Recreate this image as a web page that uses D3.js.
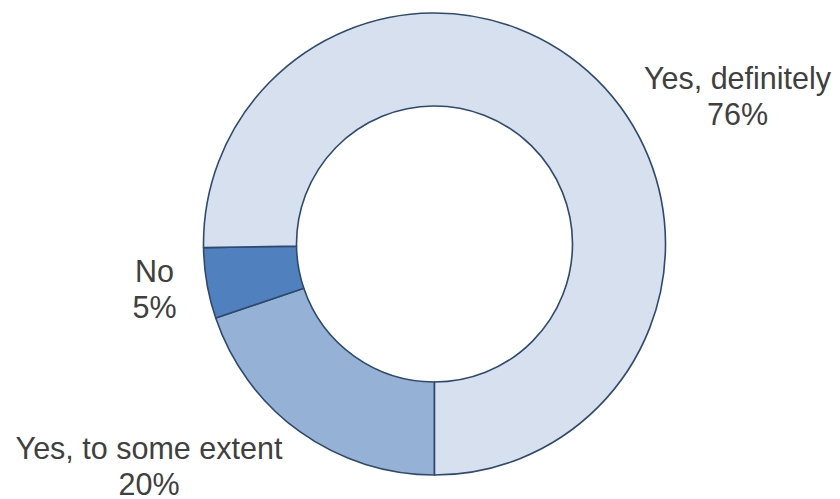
<!DOCTYPE html>
<html>
<head>
<meta charset="utf-8">
<script src="https://cdn.jsdelivr.net/npm/d3@7"></script>
<style>
  html, body { margin: 0; padding: 0; background: #ffffff; }
  svg { display: block; }
</style>
</head>
<body>
<svg id="chart" width="840" height="499"></svg>
<script>
// Survey responses, in drawing order (clockwise from 6 o'clock)
const categories = ["Yes, to some extent", "No", "Yes, definitely"];
const values = [20, 5, 76];
const colors = ["#95B1D6", "#5080BD", "#D7E0EE"];

const width = 840, height = 499;
const cx = 434.5, cy = 244;
const outerR = 231, innerR = 138;

const svg = d3.select("#chart");
const g = svg.append("g").attr("transform", `translate(${cx},${cy})`);

const pie = d3.pie().sort(null).value(d => d.value)
  .startAngle(Math.PI).endAngle(3 * Math.PI);
const arc = d3.arc().innerRadius(innerR).outerRadius(outerR);

const data = categories.map((c, i) => ({ label: c, value: values[i], color: colors[i] }));
const arcs = pie(data);

g.selectAll("path.slice")
  .data(arcs)
  .join("path")
  .attr("class", "slice")
  .attr("d", arc)
  .attr("fill", d => d.data.color)
  .attr("stroke", "#2E4A6E")
  .attr("stroke-width", 1.6)
  .attr("stroke-linejoin", "round");

// Two-line labels: name, then percentage
const labelPos = {
  "Yes, definitely": [737.5, 89],
  "No": [154.5, 282],
  "Yes, to some extent": [149, 458.5]
};

const labels = svg.append("g")
  .attr("font-family", "Liberation Sans, Arial, sans-serif")
  .attr("font-size", 30.5)
  .attr("fill", "#404040")
  .attr("text-anchor", "middle");

data.forEach(d => {
  const [x, y] = labelPos[d.label];
  const t = labels.append("text").attr("x", x).attr("y", y);
  t.append("tspan").attr("x", x).attr("dy", 0).text(d.label);
  t.append("tspan").attr("x", x).attr("dy", 36).text(d.value + "%");
});
</script>
</body>
</html>
